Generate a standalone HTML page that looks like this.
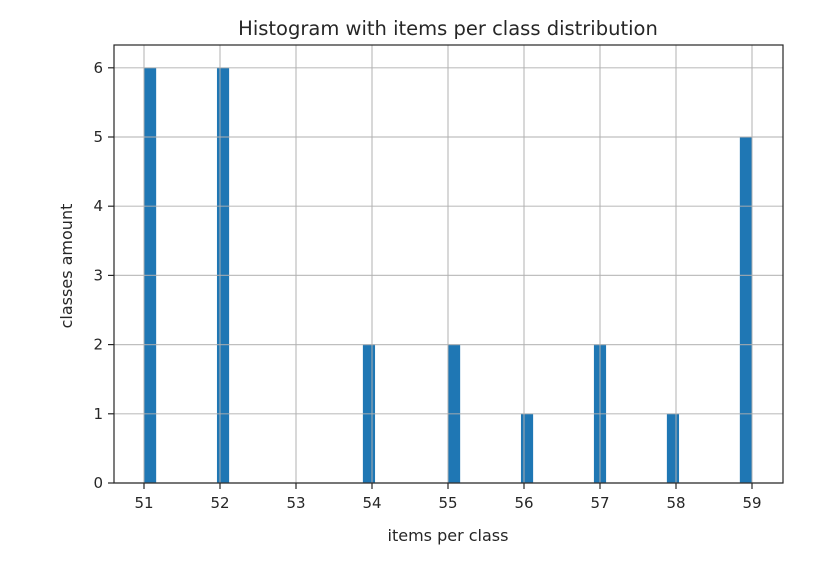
<!DOCTYPE html>
<html><head><meta charset="utf-8"><style>
body{margin:0;background:#fff;}
text{font-family:"DejaVu Sans","Liberation Sans",sans-serif;fill:#262626;}
</style></head><body>
<svg id="chart" width="824" height="564">
<text x="448" y="35" font-size="19.5" text-anchor="middle">Histogram with items per class distribution</text>
<g id="bars"></g><g id="grid"></g><g id="axes"></g>
<text x="448" y="541" font-size="16" text-anchor="middle">items per class</text>
<text transform="translate(72,266) rotate(-90)" font-size="16" text-anchor="middle">classes amount</text>
</svg>
<script>
const values=[51,52,53,54,55,56,57,58,59];
const counts=[6,6,0,2,2,1,2,1,5];
const xTicks=[51,52,53,54,55,56,57,58,59];
const yTicks=[0,1,2,3,4,5,6];
const binCount=50, xMin=51, xMax=59;
const L=114,R=783,T=45,B=483;
const sx=v=>144+(v-51)*76;
const sy=v=>483-v*69.2;
const NS="http://www.w3.org/2000/svg";
function mk(tag,attrs,parent){const e=document.createElementNS(NS,tag);for(const k in attrs)e.setAttribute(k,attrs[k]);parent.appendChild(e);return e;}
const bins=new Array(binCount).fill(0);
const w=(xMax-xMin)/binCount;
values.forEach((v,i)=>{let b=Math.min(binCount-1,Math.floor((v-xMin)/w+1e-9));bins[b]+=counts[i];});
const gb=document.getElementById('bars');
bins.forEach((c,i)=>{if(!c)return;const x0=sx(xMin+i*w),x1=sx(xMin+(i+1)*w);
const r=mk('rect',{x:x0,y:sy(c),width:x1-x0,height:sy(0)-sy(c),fill:'#1f77b4'},gb);

});
const gg=document.getElementById('grid'),ga=document.getElementById('axes');
xTicks.forEach(t=>{const x=sx(t);
const g=mk('line',{x1:x,x2:x,y1:T,y2:B,stroke:'#b0b0b0','stroke-width':1.2,opacity:0.8},gg);

mk('line',{x1:x,x2:x,y1:B,y2:B+6,stroke:'#262626','stroke-width':1.2},ga);
const tx=mk('text',{x:x,y:B+25,'font-size':15,'text-anchor':'middle'},ga);tx.textContent=t;
});
yTicks.forEach(t=>{const y=sy(t);
const g=mk('line',{x1:L,x2:R,y1:y,y2:y,stroke:'#b0b0b0','stroke-width':1.2,opacity:0.8},gg);

mk('line',{x1:L-6,x2:L,y1:y,y2:y,stroke:'#262626','stroke-width':1.2},ga);
const tx=mk('text',{x:L-11,y:y+5,'font-size':15,'text-anchor':'end'},ga);tx.textContent=t;
});
const fr=mk('rect',{x:L,y:T,width:R-L,height:B-T,fill:'none',stroke:'#262626','stroke-width':1.2},ga);

</script>
</body></html>
